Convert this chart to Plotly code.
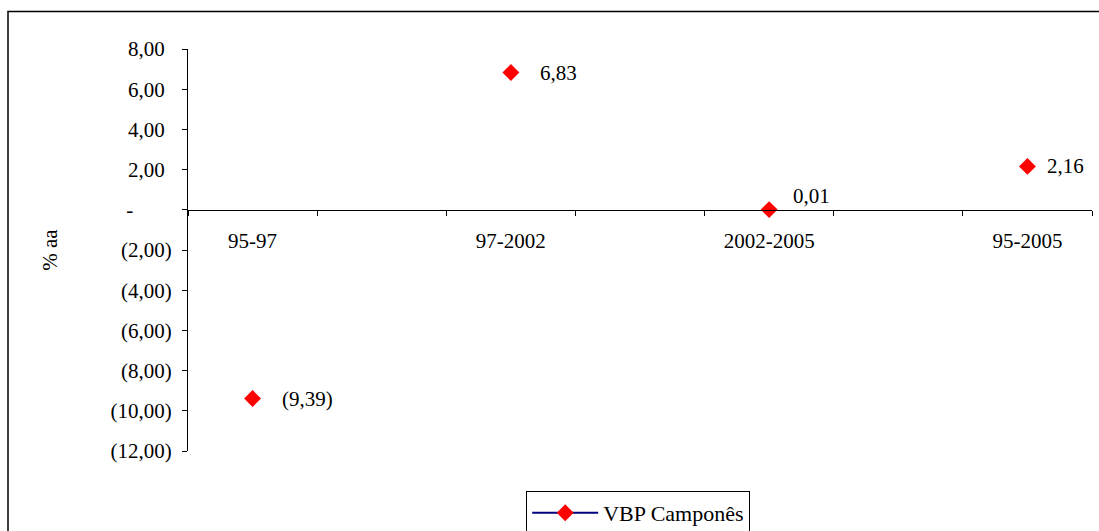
import plotly.graph_objects as go

# Periods on the category axis (blank slots separate the periods)
periods = ["95-97", "", "97-2002", "", "2002-2005", "", "95-2005"]
# Annual growth rate of VBP Camponês (% a.a.)
vbp_campones = [-9.39, None, 6.83, None, 0.01, None, 2.16]
# Y axis ticks
y_ticks = [8, 6, 4, 2, 0, -2, -4, -6, -8, -10, -12]

FONT = "Liberation Serif, Times New Roman, serif"
FS = 21


def fmt_br(v):
    """Accounting-style number: 1,23 / (1,23) / - ."""
    if abs(v) < 1e-12:
        return "-\u2007\u2007\u2007\u2004"
    s = f"{abs(v):.2f}".replace(".", ",")
    return f"({s})" if v < 0 else s + "\u2004"


x_idx = list(range(len(periods)))

fig = go.Figure()
fig.add_trace(go.Scatter(
    x=x_idx,
    y=vbp_campones,
    mode="lines+markers",
    name="VBP Camponês",
    connectgaps=False,
    line=dict(color="#000080", width=2),
    marker=dict(symbol="diamond", size=13, color="#ff0000"),
    showlegend=True,
))

# Value labels beside each point: (xshift, yshift) per point
label_offsets = {0: (27, 0), 2: (27, 0), 4: (22, 14), 6: (18, 0)}
for i, v in enumerate(vbp_campones):
    if v is None:
        continue
    dx, dy = label_offsets.get(i, (25, 0))
    fig.add_annotation(
        x=i, y=v, xref="x", yref="y",
        text=fmt_br(v).strip("\u2004\u2007"),
        showarrow=False, xanchor="left", yanchor="middle",
        xshift=dx, yshift=dy,
        font=dict(family=FONT, size=FS, color="black"),
    )

y_min, y_max = -12, 8
zero_pos = (0 - y_min) / (y_max - y_min)

label_idx = [i for i, p in enumerate(periods) if p]
fig.update_layout(
    width=1099, height=531,
    margin=dict(l=188, r=7, t=49, b=80, autoexpand=False),
    paper_bgcolor="white", plot_bgcolor="white",
    font=dict(family=FONT, size=FS, color="black"),
    xaxis=dict(
        range=[-0.5, len(periods) - 0.5],
        tickmode="array",
        tickvals=label_idx,
        ticktext=[periods[i] for i in label_idx],
        ticks="",
        ticklabelstandoff=12,
        showline=True, linecolor="black", linewidth=1,
        showgrid=False, zeroline=False,
        anchor="free", position=zero_pos,
        automargin=False,
        minor=dict(
            tickmode="array",
            tickvals=[i - 0.5 for i in range(len(periods) + 1)],
            ticks="outside", ticklen=5, tickwidth=1, tickcolor="black",
            showgrid=False,
        ),
        tickfont=dict(family=FONT, size=FS),
    ),
    yaxis=dict(
        range=[y_min, y_max],
        tickmode="array",
        tickvals=y_ticks,
        ticktext=[fmt_br(v) for v in y_ticks],
        ticks="outside", ticklen=5, tickwidth=1, tickcolor="black",
        ticklabelstandoff=6,
        showline=True, linecolor="black", linewidth=1,
        showgrid=False, zeroline=False,
        automargin=False,
        title=dict(text="% aa", standoff=47, font=dict(family=FONT, size=FS)),
        tickfont=dict(family=FONT, size=FS),
    ),
    legend=dict(
        orientation="h",
        x=0.498, xanchor="center",
        yref="container", y=1 - 491 / 531, yanchor="top",
        bordercolor="black", borderwidth=1,
        bgcolor="white",
        itemwidth=66,
        font=dict(family=FONT, size=FS + 1),
    ),
    shapes=[dict(
        type="rect", xref="paper", yref="paper",
        x0=(8 - 188) / 904, x1=(1110 - 188) / 904,
        y0=-0.3, y1=1 + (49 - 11.5) / 402,
        line=dict(color="black", width=1.5),
        fillcolor="rgba(0,0,0,0)", layer="below",
    )],
)

fig.write_html("out.html")
